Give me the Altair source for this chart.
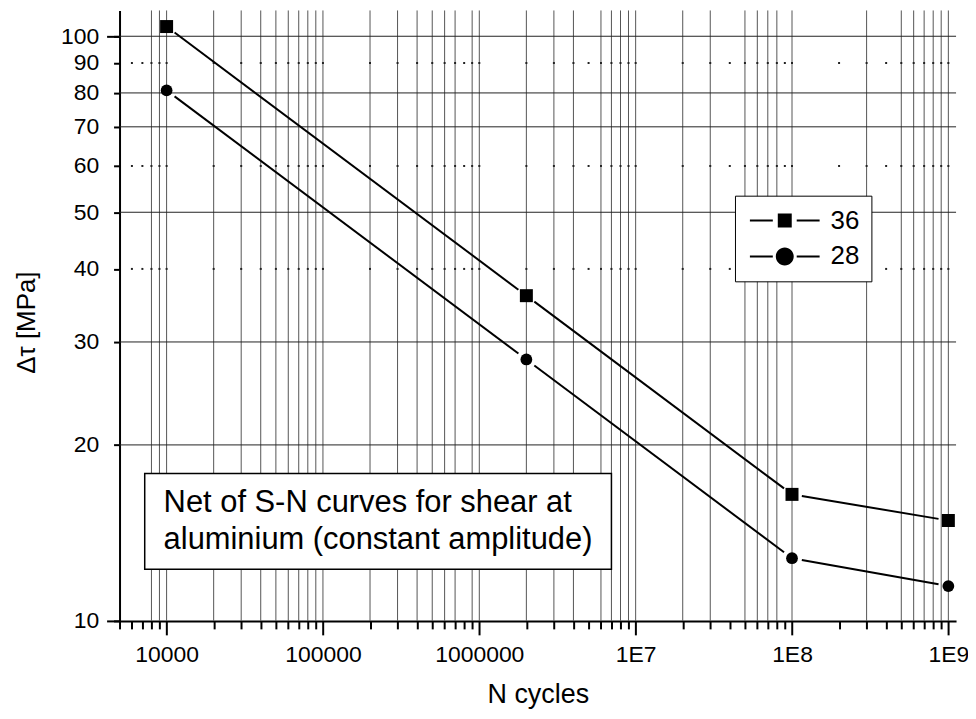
import math
import altair as alt
import pandas as pd

# ---------------- data ----------------
cycles = [1e4, 2e6, 1e8, 1e9]
series_names = ["36", "28"]
stress_36 = [103.9, 36.0, 16.46, 14.85]
stress_28 = [80.8, 28.0, 12.8, 11.47]

# axes
x_domain = [5000, 1.12e9]
y_domain = [10, 110.7]
x_major = [1e4, 1e5, 1e6, 1e7, 1e8, 1e9]
x_minor = [5e3, 6e3, 7e3, 8e3, 9e3,
           2e4, 3e4, 4e4, 5e4, 6e4, 7e4, 8e4, 9e4,
           2e5, 3e5, 4e5, 5e5, 6e5, 7e5, 8e5, 9e5,
           2e6, 3e6, 4e6, 5e6, 6e6, 7e6, 8e6, 9e6,
           2e7, 3e7, 4e7, 5e7, 6e7, 7e7, 8e7, 9e7,
           2e8, 3e8, 4e8, 5e8, 6e8, 7e8, 8e8, 9e8]
y_ticks = [10, 20, 30, 40, 50, 60, 70, 80, 90, 100]
y_major = [10, 100]

# grid
v_grid = [8e3, 9e3, 1e4,
          2e4, 3e4, 4e4, 5e4, 6e4, 7e4, 8e4, 9e4, 1e5,
          2e5, 3e5, 4e5, 5e5, 6e5, 7e5, 9e5, 1e6,
          2e6, 3e6, 4e6, 6e6, 7e6, 8e6, 9e6, 1e7,
          2e7, 3e7, 5e7, 6e7, 7e7, 8e7, 1e8,
          3e8, 5e8, 6e8, 7e8, 8e8, 9e8, 1e9]
h_grid_solid = [100, 80, 70, 50, 30, 20]
h_grid_dotted = [90, 60, 40]
dot_x = [6e3, 7e3, 8e3, 9e3, 1e4,
         2e4, 3e4, 4e4, 5e4, 6e4, 7e4, 8e4, 9e4, 1e5,
         2e5, 3e5, 4e5, 5e5, 6e5, 7e5, 8e5, 9e5, 1e6,
         2e6, 3e6, 4e6, 5e6, 6e6, 7e6, 8e6, 9e6, 1e7,
         2e7, 3e7, 4e7, 5e7, 6e7, 7e7, 8e7, 9e7, 1e8,
         2e8, 3e8, 4e8, 5e8, 6e8, 7e8, 8e8, 9e8, 1e9]

# annotation (anchored in data space)
ann_lines = ["Net of S-N curves for shear at", "aluminium (constant amplitude)"]
ann_text_x = 9570
ann_text_y = [15.34, 13.26]
ann_box = {"x": 7245, "x2": 7.0e6, "y": 17.87, "y2": 12.26}

W, H = 840, 613
FONT = "Liberation Sans"

# ---------------- tables ----------------
pts = pd.DataFrame(
    [{"series": "36", "N": n, "S": s} for n, s in zip(cycles, stress_36)]
    + [{"series": "28", "N": n, "S": s} for n, s in zip(cycles, stress_28)]
)

# line segments trimmed near the markers (gap as in the original)
kx = W / math.log10(x_domain[1] / x_domain[0])
ky = H / math.log10(y_domain[1] / y_domain[0])
gap = 10.0
segs = []
for name, vals in (("36", stress_36), ("28", stress_28)):
    for i in range(len(cycles) - 1):
        ax, ay = math.log10(cycles[i]) * kx, math.log10(vals[i]) * ky
        bx, by = math.log10(cycles[i + 1]) * kx, math.log10(vals[i + 1]) * ky
        L = math.hypot(bx - ax, by - ay)
        f = gap / L
        segs.append({
            "series": name,
            "x": 10 ** ((ax + (bx - ax) * f) / kx),
            "y": 10 ** ((ay + (by - ay) * f) / ky),
            "x2": 10 ** ((bx - (bx - ax) * f) / kx),
            "y2": 10 ** ((by - (by - ay) * f) / ky),
        })
segs = pd.DataFrame(segs)

vgrid_df = pd.DataFrame({"x": v_grid})
hgrid_df = pd.DataFrame({"y": h_grid_solid})
dots_df = pd.DataFrame([{"x": x, "y": y} for y in h_grid_dotted for x in dot_x])
ann_df = pd.DataFrame({"text": ann_lines, "x": [ann_text_x] * 2, "y": ann_text_y})
box_df = pd.DataFrame([ann_box])

xs = alt.Scale(type="log", domain=x_domain, nice=False)
ys = alt.Scale(type="log", domain=y_domain, nice=False)

label_expr = ("datum.value >= 1e7 ? '1E' + format(log(datum.value)/LN10, '.0f') "
              ": format(datum.value, 'd')")

# ---------------- layers ----------------
vgrid = alt.Chart(vgrid_df).mark_rule(color="#555", strokeWidth=1).encode(
    x=alt.X("x:Q", scale=xs, axis=alt.Axis(
        orient="bottom", values=x_minor, tickSize=8, tickWidth=2, tickColor="black",
        labels=False, domain=False, grid=False, title=None))
)

hgrid = alt.Chart(hgrid_df).mark_rule(color="#222", strokeWidth=1).encode(
    y=alt.Y("y:Q", scale=ys, axis=alt.Axis(
        orient="left", values=y_major, tickSize=13, tickWidth=2, tickColor="black",
        labels=False, domain=False, grid=False, title=None))
)

dots = alt.Chart(dots_df).mark_square(size=4, color="#222", opacity=1).encode(
    x=alt.X("x:Q", scale=xs, axis=None),
    y=alt.Y("y:Q", scale=ys, axis=None),
)

box = alt.Chart(box_df).mark_rect(fill="white", stroke="black", strokeWidth=1.5).encode(
    x=alt.X("x:Q", scale=xs, axis=None), x2="x2:Q",
    y=alt.Y("y:Q", scale=ys, axis=None), y2="y2:Q",
)

ann = alt.Chart(ann_df).mark_text(
    align="left", baseline="alphabetic", fontSize=31, font=FONT, color="black"
).encode(
    x=alt.X("x:Q", scale=xs, axis=None),
    y=alt.Y("y:Q", scale=ys, axis=None),
    text="text:N",
)

lines = alt.Chart(segs).mark_rule(color="black", strokeWidth=2).encode(
    x=alt.X("x:Q", scale=xs, axis=None), x2="x2:Q",
    y=alt.Y("y:Q", scale=ys, axis=None), y2="y2:Q",
)

squares = alt.Chart(pts).transform_filter("datum.series == '36'").mark_square(
    size=170, color="black", opacity=1
).encode(
    x=alt.X("N:Q", scale=xs, axis=alt.Axis(
        orient="bottom", values=x_major, tickSize=14, tickWidth=2, tickColor="black",
        domain=True, domainWidth=2, domainColor="black", grid=False,
        labelExpr=label_expr, labelFontSize=23, labelFont=FONT, labelColor="black",
        labelPadding=9, labelFlush=False,
        title="N cycles", titleFontSize=27, titleFont=FONT, titleFontWeight="normal",
        titleColor="black", titleY=82, titleBaseline="alphabetic")),
    y=alt.Y("S:Q", scale=ys, axis=alt.Axis(
        orient="left", values=y_ticks, tickSize=6, tickWidth=2, tickColor="black",
        domain=True, domainWidth=2, domainColor="black", grid=False,
        format="d", labelFontSize=23, labelFont=FONT, labelColor="black",
        labelPadding=15, labelFlush=False,
        title="\u0394\u03c4 [MPa]", titleFontSize=26, titleFont=FONT,
        titleFontWeight="normal", titleColor="black", titleAngle=270,
        titleX=-93, titleY=313, titleAlign="center", titleBaseline="middle")),
)

circles = alt.Chart(pts).transform_filter("datum.series == '28'").mark_circle(
    size=140, color="black", opacity=1
).encode(
    x=alt.X("N:Q", scale=xs, axis=None),
    y=alt.Y("S:Q", scale=ys, axis=None),
)

# legend: line - marker - line symbols (all filled sub-shapes)
sym_square = ("M-1,-0.1H1.3V0.1H-1Z"
              "M3.7,-0.1H6V0.1H3.7Z"
              "M1.8,-0.7H3.2V0.7H1.8Z")
sym_circle = ("M-1,-0.1H1.3V0.1H-1Z"
              "M3.7,-0.1H6V0.1H3.7Z"
              "M1.6,0A0.9,0.9,0,1,1,3.4,0A0.9,0.9,0,1,1,1.6,0Z")

legend_layer = alt.Chart(pts).transform_filter("false").mark_point(
    filled=True, color="black"
).encode(
    x=alt.X("N:Q", scale=xs, axis=None),
    y=alt.Y("S:Q", scale=ys, axis=None),
    shape=alt.Shape("series:N",
                    scale=alt.Scale(domain=series_names, range=[sym_square, sym_circle]),
                    legend=alt.Legend(
                        title=None, orient="none", legendX=618, legendY=186,
                        padding=12, strokeColor="black", fillColor="white",
                        symbolSize=400, symbolStrokeWidth=0,
                        symbolFillColor="black",
                        symbolOpacity=1,
                        labelFontSize=26, labelFont=FONT, labelColor="black",
                        labelOffset=58, rowPadding=10, labelLimit=200)),
)

chart = alt.layer(
    vgrid, hgrid, dots, box, ann, lines, squares, circles, legend_layer
).resolve_axis(
    x="independent", y="independent"
).properties(
    width=W, height=H,
    padding={"left": 112, "top": 1, "right": 12, "bottom": 89},
    autosize=alt.AutoSizeParams(type="none"),
    background="white",
).configure_view(stroke=None)

chart.save("out.html", embed_options={"renderer": "svg", "actions": False})
